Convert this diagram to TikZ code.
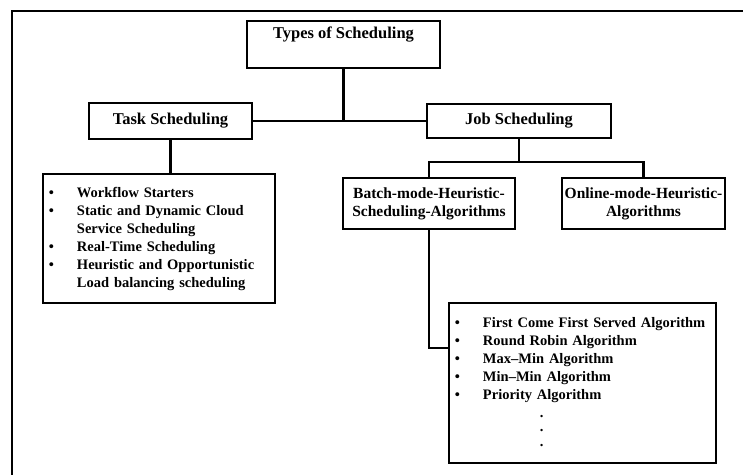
\documentclass[tikz,border=0pt]{standalone}
\usepackage{fontspec}
\setmainfont{Liberation Serif}
\usetikzlibrary{positioning,calc}
\tikzstyle{mybox} = [draw=black, line width=1.8pt, fill=white,
    rectangle, inner sep=1pt, align=center, font=\fontsize{16.5}{18}\selectfont\bfseries]
\tikzstyle{subbox} = [mybox, font=\fontsize{15.5}{18}\selectfont\bfseries]
\tikzstyle{listbox} = [draw=black, line width=1.8pt, fill=white, rectangle,
    inner xsep=6pt, inner ysep=0pt, anchor=north west, align=left,
    font=\fontsize{14.5}{18}\selectfont\bfseries]
\tikzstyle{link} = [line width=2.4pt]

\begin{document}
\begin{tikzpicture}[x=1pt, y=-1pt]
                \useasboundingbox (0,0) rectangle (743,475);
                \draw[line width=1.8pt] (743,11) -- (12,11) -- (12,475);
                \node[mybox, minimum width=193pt, minimum height=47pt, text height=12pt, text depth=25pt, inner ysep=5pt] (types) at (343.5,44.5) {Types of Scheduling};
                \node[mybox, minimum width=163pt, minimum height=36pt] (task) at (170.5,121) {Task Scheduling};
                \node[mybox, minimum width=184pt, minimum height=34pt] (job) at (519,121) {Job Scheduling};
                \node[subbox, minimum width=172pt, minimum height=51pt] (batch) at (429,203.5) {Batch-mode-Heuristic-\\Scheduling-Algorithms};
                \node[subbox, minimum width=163pt, minimum height=51pt] (online) at (643.5,203.5) {Online-mode-Heuristic-\\Algorithms};
                \node[listbox, text width=220pt, minimum height=129pt] (tasklist) at (42,173) {%
                    \begin{tabular}{@{}l@{\hspace{23pt}}l@{}}
                        \textbullet & Workflow Starters\\
                        \textbullet & Static and Dynamic Cloud\\
                                    & Service Scheduling\\
                        \textbullet & Real-Time Scheduling\\
                        \textbullet & Heuristic and Opportunistic\\
                                    & Load balancing scheduling
                    \end{tabular}
                };
                \node[listbox, text width=255pt, minimum height=160pt] (algo) at (448,302) {%
                    \begin{tabular}{@{}l@{\hspace{23pt}}l@{}}
                        \textbullet & First Come First Served Algorithm\\
                        \textbullet & Round Robin Algorithm\\
                        \textbullet & Max–Min Algorithm\\
                        \textbullet & Min–Min Algorithm\\
                        \textbullet & Priority Algorithm\\
                                    & \hspace{57pt}.\\[-3.5pt]
                                    & \hspace{57pt}.\\[-3.5pt]
                                    & \hspace{57pt}.
                    \end{tabular}
                };
                \coordinate (jobbar) at ($(job.south)+(0,23)$);
                \draw[link] (types.south) -- (types.south |- task.east);
                \draw[link] (task.east) -- (job.west);
                \draw[link] (task.south) -- (task.south |- tasklist.north);
                \draw[link] (job.south) -- (jobbar);
                \draw[link] (batch.north) -- (batch.north |- jobbar) -- (online.north |- jobbar) -- (online.north);
                \draw[link] (batch.south) |- ($(algo.north west)+(0,46)$);
            \end{tikzpicture}
\end{document}
